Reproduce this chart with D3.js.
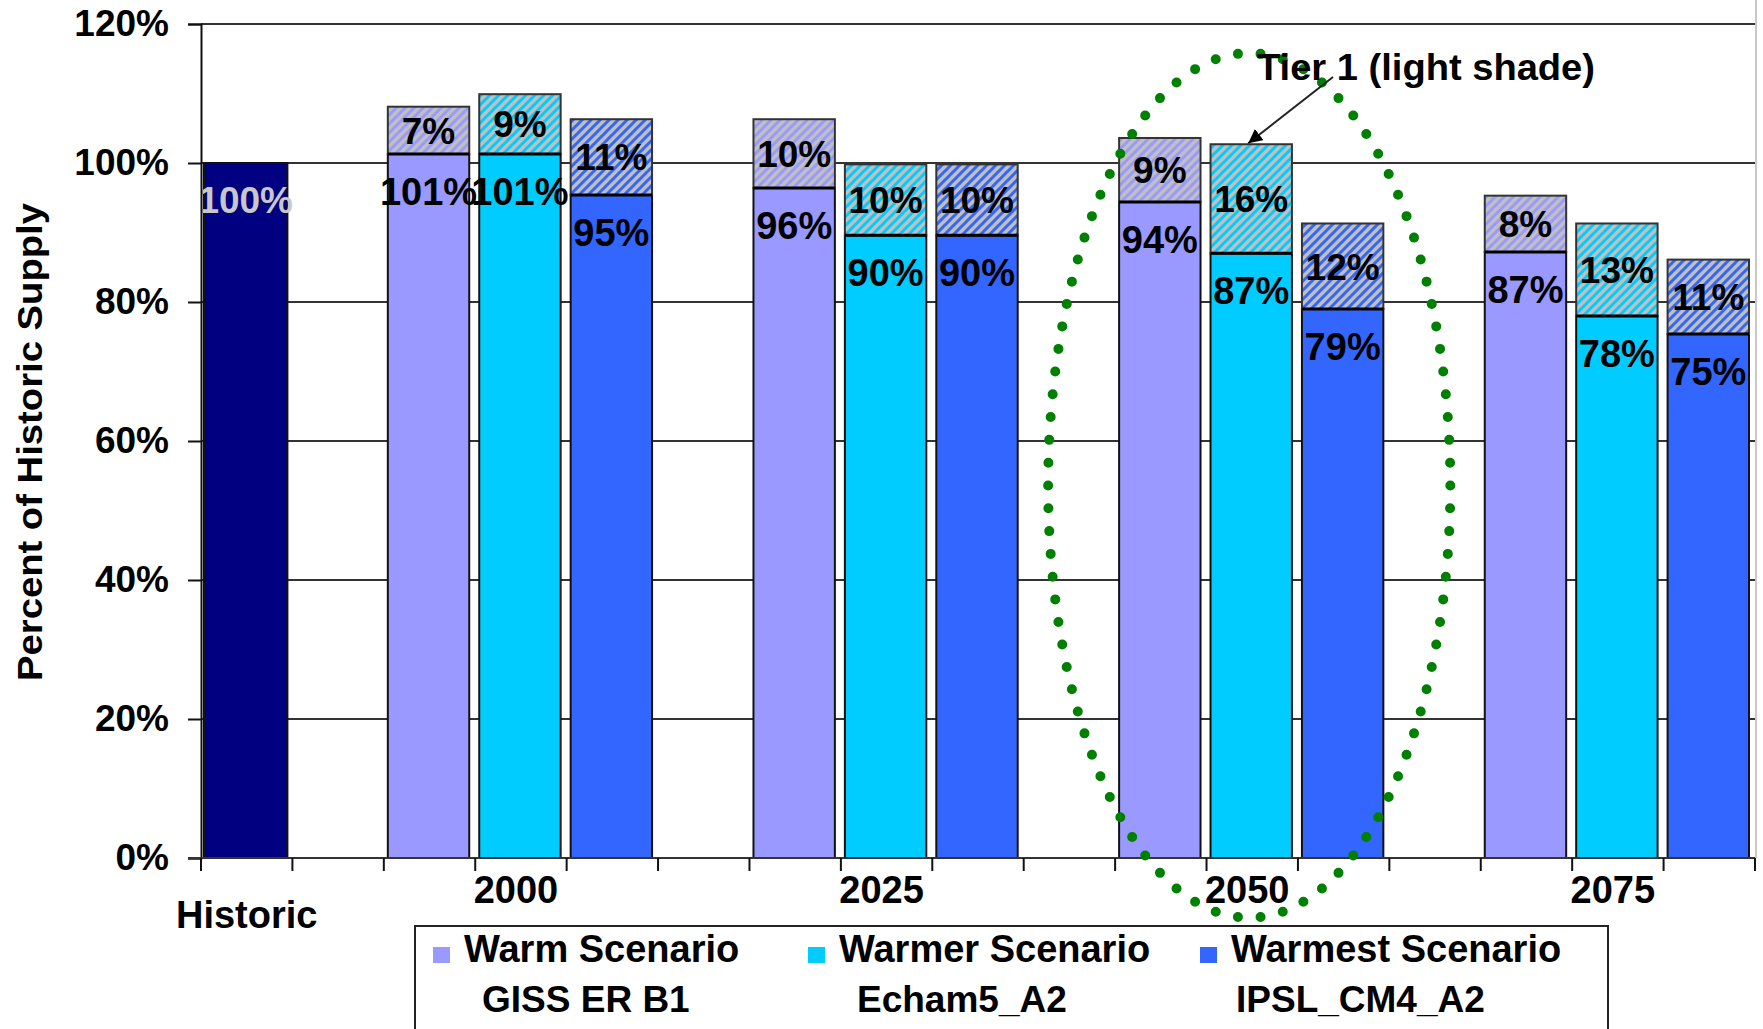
<!DOCTYPE html>
<html>
<head>
<meta charset="utf-8">
<script src="https://cdn.jsdelivr.net/npm/d3@7"></script>
<style>
  body { margin: 0; background: #fff; }
  svg { display: block; font-family: "Liberation Sans", Arial, sans-serif; font-weight: bold; }
</style>
</head>
<body>
<div id="chart"></div>
<script>
// values (percent of historic supply)
var years = ["2000", "2025", "2050", "2075"];
var scenarios = ["Warm Scenario", "Warmer Scenario", "Warmest Scenario"];
var models = ["GISS ER B1", "Echam5_A2", "IPSL_CM4_A2"];
var historicValue = 100;
// base supply, one row per year, one column per scenario
var baseSupply = [
    [101.3, 101.3, 95.4],
    [96.4, 89.6, 89.6],
    [94.4, 87.0, 79.0],
    [87.2, 78.0, 75.4]
];
// tier 1 (light shade) stacked on top
var tier1 = [
    [6.8, 8.6, 10.9],
    [9.9, 10.2, 10.2],
    [9.2, 15.7, 12.3],
    [8.1, 13.3, 10.7]
];
var yTicks = [0, 20, 40, 60, 80, 100, 120];

var colors = ["#9999ff", "#00ccff", "#3366ff"];
var historicColor = "#000080";

var width = 1763, height = 1029;
var margin = {top: 24, left: 201, right: 8, bottom: 171};

var svg = d3.select("#chart").append("svg")
    .attr("width", width)
    .attr("height", height);

// hatch patterns for the tier 1 part
var defs = svg.append("defs");
var hp = 9;
colors.forEach(function(c, i) {
    var p = defs.append("pattern")
        .attr("id", "hatch" + i)
        .attr("patternUnits", "userSpaceOnUse")
        .attr("width", hp).attr("height", hp);
    p.append("rect").attr("width", hp).attr("height", hp).attr("fill", "#c0c0c0");
    p.append("path")
        .attr("d", "M" + (-hp / 4) + "," + (hp / 4) + " l" + (hp / 2) + "," + (-hp / 2) +
                   " M0," + hp + " l" + hp + "," + (-hp) +
                   " M" + (3 * hp / 4) + "," + (5 * hp / 4) + " l" + (hp / 2) + "," + (-hp / 2))
        .attr("stroke", c)
        .attr("stroke-width", 3);
});

// slots along the category axis, with an empty one before each year
var slots = ["Historic", "gap-h"];
years.forEach(function(yr, yi) {
    scenarios.forEach(function(s, si) { slots.push(yr + "|" + si); });
    if (yi < years.length - 1) slots.push("gap-" + yr);
});

var x = d3.scaleBand()
    .domain(slots)
    .range([margin.left, width - margin.right])
    .padding(0);

var y = d3.scaleLinear()
    .domain([0, 120])
    .range([height - margin.bottom, margin.top]);

var barOff = 4;
var barW = x.bandwidth() - 10;

// gridlines
svg.append("g").selectAll("line")
    .data(yTicks.filter(function(d) { return d > 0; }))
    .enter().append("line")
    .attr("x1", margin.left).attr("x2", width - margin.right)
    .attr("y1", function(d) { return y(d); })
    .attr("y2", function(d) { return y(d); })
    .attr("stroke", "#333")
    .attr("stroke-width", 2);

// right edge of the chart
svg.append("line")
    .attr("x1", width - margin.right + 1).attr("x2", width - margin.right + 1)
    .attr("y1", 0).attr("y2", y(0))
    .attr("stroke", "#c8c8c8").attr("stroke-width", 2);

// flatten bars
var bars = [];
years.forEach(function(yr, yi) {
    scenarios.forEach(function(s, si) {
        bars.push({slot: yr + "|" + si, si: si, base: baseSupply[yi][si], tier: tier1[yi][si]});
    });
});

var barG = svg.append("g");

// historic bar
barG.append("rect")
    .attr("x", x("Historic") + 3)
    .attr("y", y(historicValue))
    .attr("width", barW + 2)
    .attr("height", y(0) - y(historicValue))
    .attr("fill", historicColor)
    .attr("stroke", "#111").attr("stroke-width", 2);

barG.append("text")
    .attr("x", x("Historic") + 3 + (barW + 2) / 2)
    .attr("y", y(historicValue) + 50)
    .attr("text-anchor", "middle")
    .attr("font-size", 37)
    .attr("fill", "#c8c8c8")
    .text(historicValue + "%");

var g = barG.selectAll("g.bar").data(bars).enter().append("g").attr("class", "bar");

g.append("rect")
    .attr("x", function(d) { return x(d.slot) + barOff; })
    .attr("y", function(d) { return y(d.base); })
    .attr("width", barW)
    .attr("height", function(d) { return y(0) - y(d.base); })
    .attr("fill", function(d) { return colors[d.si]; })
    .attr("stroke", "#111").attr("stroke-width", 2);

g.append("rect")
    .attr("x", function(d) { return x(d.slot) + barOff; })
    .attr("y", function(d) { return y(d.base + d.tier); })
    .attr("width", barW)
    .attr("height", function(d) { return y(d.base) - y(d.base + d.tier); })
    .attr("fill", function(d) { return "url(#hatch" + d.si + ")"; })
    .attr("stroke", "#333").attr("stroke-width", 2);

g.append("line")
    .attr("x1", function(d) { return x(d.slot) + barOff; })
    .attr("x2", function(d) { return x(d.slot) + barOff + barW; })
    .attr("y1", function(d) { return y(d.base); })
    .attr("y2", function(d) { return y(d.base); })
    .attr("stroke", "#000").attr("stroke-width", 3);

g.append("text")
    .attr("x", function(d) { return x(d.slot) + barOff + barW / 2; })
    .attr("y", function(d) { return y(d.base) + 51; })
    .attr("text-anchor", "middle")
    .attr("font-size", 38)
    .text(function(d) { return Math.round(d.base) + "%"; });

g.append("text")
    .attr("x", function(d) { return x(d.slot) + barOff + barW / 2; })
    .attr("y", function(d) { return (y(d.base) + y(d.base + d.tier)) / 2; })
    .attr("dy", "0.36em")
    .attr("text-anchor", "middle")
    .attr("font-size", 37)
    .text(function(d) { return Math.round(d.tier) + "%"; });

// y axis
var yAxis = d3.axisLeft(y)
    .tickValues(yTicks)
    .tickSize(13)
    .tickPadding(19)
    .tickFormat(function(d) { return d + "%"; });

var yg = svg.append("g")
    .attr("transform", "translate(" + margin.left + ",0)")
    .call(yAxis);
yg.select(".domain").attr("stroke", "#111").attr("stroke-width", 2);
yg.selectAll(".tick line").attr("stroke", "#111").attr("stroke-width", 2);
yg.selectAll(".tick text")
    .attr("font-size", 37)
    .attr("font-family", "Liberation Sans, Arial, sans-serif")
    .attr("font-weight", "bold")
    .attr("fill", "#000");

svg.append("text")
    .attr("transform", "translate(42," + ((y(0) + y(120)) / 2 + 1) + ") rotate(-90)")
    .attr("text-anchor", "middle")
    .attr("font-size", 35)
    .attr("textLength", 478)
    .attr("lengthAdjust", "spacingAndGlyphs")
    .text("Percent of Historic Supply");

// x axis
svg.append("line")
    .attr("x1", margin.left - 13).attr("x2", width - margin.right)
    .attr("y1", y(0)).attr("y2", y(0))
    .attr("stroke", "#333").attr("stroke-width", 2);

var tickPos = slots.map(function(s) { return x(s); }).concat([x.range()[1]]);
svg.append("g").selectAll("line")
    .data(tickPos).enter().append("line")
    .attr("x1", function(d) { return d; }).attr("x2", function(d) { return d; })
    .attr("y1", y(0)).attr("y2", y(0) + 13)
    .attr("stroke", "#111").attr("stroke-width", 2);

svg.append("g").selectAll("text")
    .data(years).enter().append("text")
    .attr("x", function(d) { return x(d + "|1") + barOff + barW / 2 - 4; })
    .attr("y", y(0) + 45)
    .attr("text-anchor", "middle")
    .attr("font-size", 38)
    .text(function(d) { return d; });

svg.append("text")
    .attr("x", x("Historic") + x.bandwidth() / 2)
    .attr("y", y(0) + 70)
    .attr("text-anchor", "middle")
    .attr("font-size", 38)
    .text("Historic");

// dotted ellipse round 2050
var ex = x("2050|1") + barOff + barW / 2 - 2;
var eTop = y(115.8), eBot = y(-8.6);
svg.append("ellipse")
    .attr("cx", ex)
    .attr("cy", (eTop + eBot) / 2)
    .attr("rx", x.bandwidth() * 2.2)
    .attr("ry", (eBot - eTop) / 2)
    .attr("fill", "none")
    .attr("stroke", "#008000")
    .attr("stroke-width", 10)
    .attr("stroke-linecap", "round")
    .attr("pathLength", 90)
    .attr("stroke-dasharray", "0 1");

// tier 1 annotation
defs.append("marker")
    .attr("id", "arrow")
    .attr("viewBox", "0 0 10 10")
    .attr("refX", 10).attr("refY", 5)
    .attr("markerWidth", 7).attr("markerHeight", 7)
    .attr("markerUnits", "strokeWidth")
    .attr("orient", "auto")
    .append("path").attr("d", "M0,0 L10,5 L0,10 z").attr("fill", "#000");

var target = bars.filter(function(d) { return d.slot === "2050|1"; })[0];
svg.append("line")
    .attr("x1", 1333).attr("y1", 77)
    .attr("x2", x(target.slot) + barOff + barW / 2 - 3)
    .attr("y2", y(target.base + target.tier) - 1)
    .attr("stroke", "#222").attr("stroke-width", 2)
    .attr("marker-end", "url(#arrow)");

svg.append("text")
    .attr("x", 1257)
    .attr("y", 80)
    .attr("font-size", 36)
    .attr("textLength", 338)
    .attr("lengthAdjust", "spacingAndGlyphs")
    .text("Tier 1 (light shade)");

// legend
var legend = svg.append("g");
legend.append("rect")
    .attr("x", 415).attr("y", 926)
    .attr("width", 1193).attr("height", 200)
    .attr("fill", "#fff")
    .attr("stroke", "#222").attr("stroke-width", 2);

var legendX = [433, 808, 1200];
var subOffset = [49, 49, 36];
scenarios.forEach(function(s, i) {
    legend.append("rect")
        .attr("x", legendX[i]).attr("y", 947)
        .attr("width", 17).attr("height", 16)
        .attr("fill", colors[i]);
    legend.append("text")
        .attr("x", legendX[i] + 31).attr("y", 962)
        .attr("font-size", 38)
        .text(s);
    legend.append("text")
        .attr("x", legendX[i] + subOffset[i]).attr("y", 1012)
        .attr("font-size", 37)
        .text(models[i]);
});
</script>
</body>
</html>
